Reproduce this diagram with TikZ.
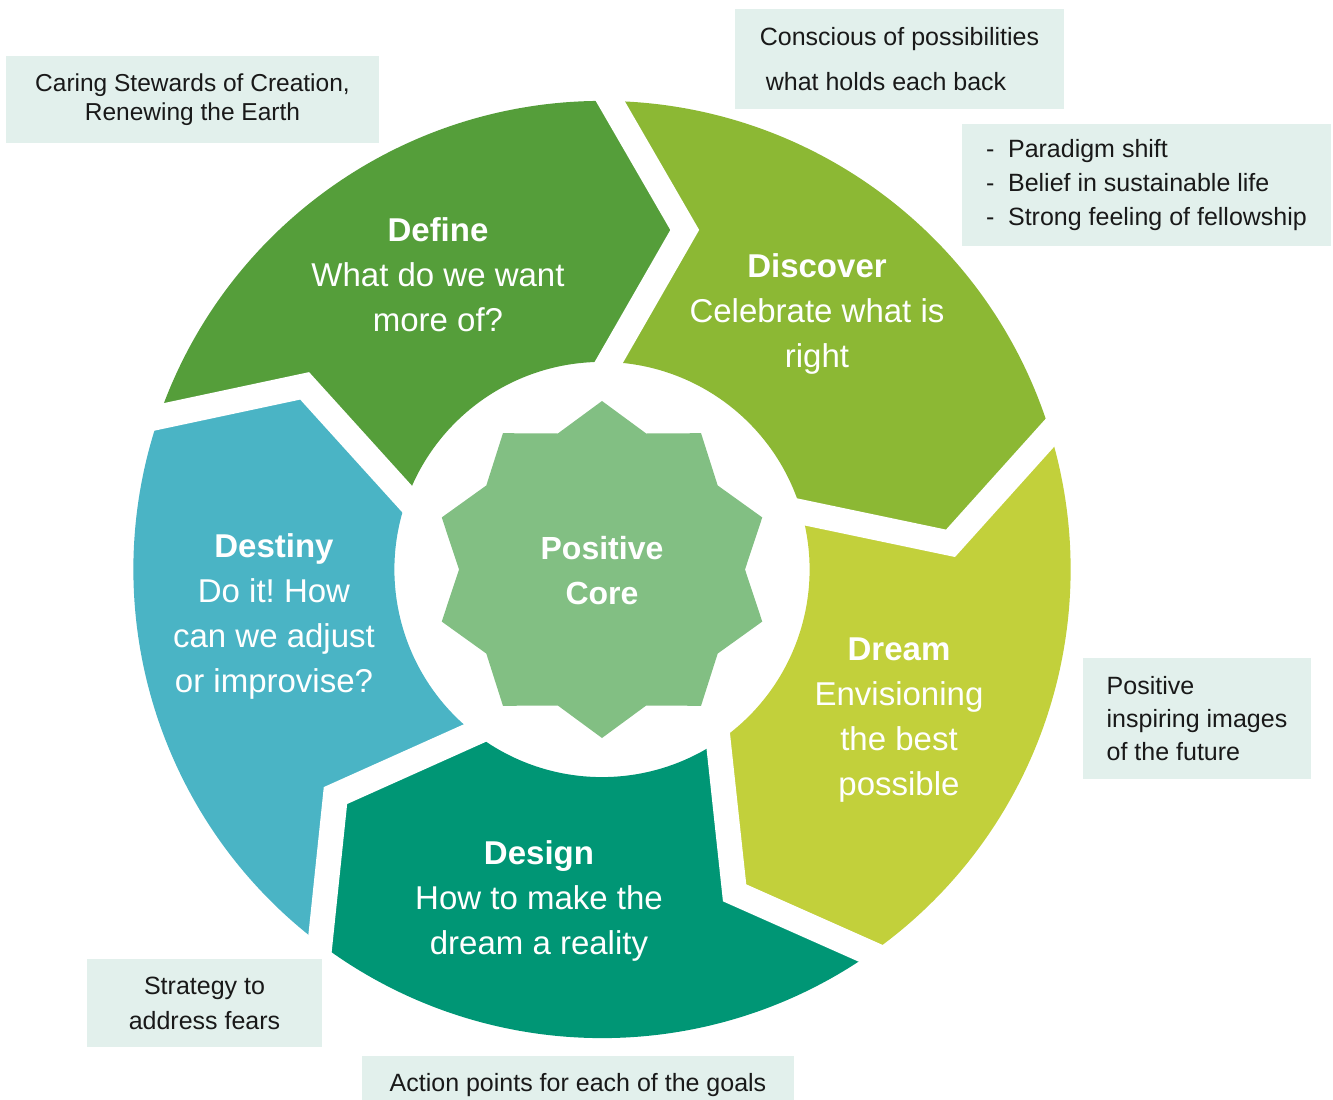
\documentclass[tikz,border=0pt]{standalone}
\usepackage{fontspec}
\setmainfont{Liberation Sans}
\usetikzlibrary{calc}
\frenchspacing

\definecolor{defineg}{RGB}{85,158,58}
\definecolor{discoverg}{RGB}{140,184,52}
\definecolor{dreamg}{RGB}{194,208,59}
\definecolor{designg}{RGB}{0,150,117}
\definecolor{destinyb}{RGB}{74,180,197}
\definecolor{coreg}{RGB}{130,191,131}
\definecolor{notebg}{RGB}{226,240,236}

\begin{document}
\begin{tikzpicture}[x=1pt,y=1pt,
            phase/.style={text=white,align=center,font=\fontsize{33}{45}\selectfont},
            note/.style={fill=notebg,inner sep=0pt,text=black!90,font=\fontsize{25}{33}\selectfont},
            gap/.style={draw=white,line width=25pt,line join=miter}]
            \useasboundingbox (0,0) rectangle (1333,-1100);
            \begin{scope}[shift={(602,-569.5)}]
                \foreach \a/\c in {89/discoverg,17/dreamg,-55/designg,-127/destinyb,-199/defineg}
                    \fill[\c] ({\a-12.7}:349.5) -- (\a:468.6)
                        arc[start angle=\a,end angle=\a-72,radius=468.6]
                        -- ({\a-84.7}:349.5) -- ({\a-72.93}:207.6)
                        arc[start angle=\a-72.93,end angle=\a-0.93,radius=207.6] -- cycle;
                \foreach \a in {89,17,-55,-127,-199}
                    \draw[gap] ($({\a-12.7}:349.5)!1.2!(\a:468.6)$) -- ({\a-12.7}:349.5)
                        -- ($({\a-12.7}:349.5)!1.2!({\a-0.93}:207.6)$);
                \fill[coreg] (90:168.5) \foreach \i in {0,...,9} {-- ({108+36*\i}:143) -- ({126+36*\i}:168.5)} -- cycle;
            \end{scope}
            \node[phase] (define) at (438,-275) {\textbf{Define}\\What do we want\\more of?};
            \node[phase] (discover) at (817,-314) {\textbf{Discover}\\Celebrate what is\\right};
            \node[phase] (dream) at (899,-720) {\textbf{Dream}\\Envisioning\\the best\\possible};
            \node[phase] (design) at (539,-901) {\textbf{Design}\\How to make the\\dream a reality};
            \node[phase] (destiny) at (274,-616) {\textbf{Destiny}\\Do it! How\\can we adjust\\or improvise?};
            \node[phase,font=\fontsize{32}{45}\selectfont\bfseries] (core) at (602,-570.5) {Positive\\Core};
            \node[note,align=center,minimum width=373pt,minimum height=87pt,
                font=\fontsize{24.5}{28.4}\selectfont] (care) at (192.5,-99.5)
                {Caring Stewards of Creation,\\Renewing the Earth};
            \node[note,align=left,minimum width=329pt,minimum height=100pt,
                font=\fontsize{25}{45.7}\selectfont] (conscious) at (899.5,-59)
                {Conscious of possibilities\\\hspace*{6pt}what holds each back};
            \node[note,align=left,minimum width=369pt,minimum height=122pt,
                font=\fontsize{25}{34}\selectfont] (shift) at (1146.5,-185)
                {\makebox[22pt][l]{-}Paradigm shift\\\makebox[22pt][l]{-}Belief in sustainable life\\\makebox[22pt][l]{-}Strong feeling of fellowship};
            \node[note,align=left,minimum width=228pt,minimum height=121pt,
                font=\fontsize{25}{33.3}\selectfont] (images) at (1197,-718.5)
                {Positive\\inspiring images\\of the future};
            \node[note,align=center,minimum width=235pt,minimum height=88pt,
                font=\fontsize{25}{35}\selectfont] (fears) at (204.5,-1003)
                {Strategy to\\address fears};
            \node[note,minimum width=432pt,minimum height=58pt] (goals) at (578,-1085)
                {Action points for each of the goals};
        \end{tikzpicture}
\end{document}
